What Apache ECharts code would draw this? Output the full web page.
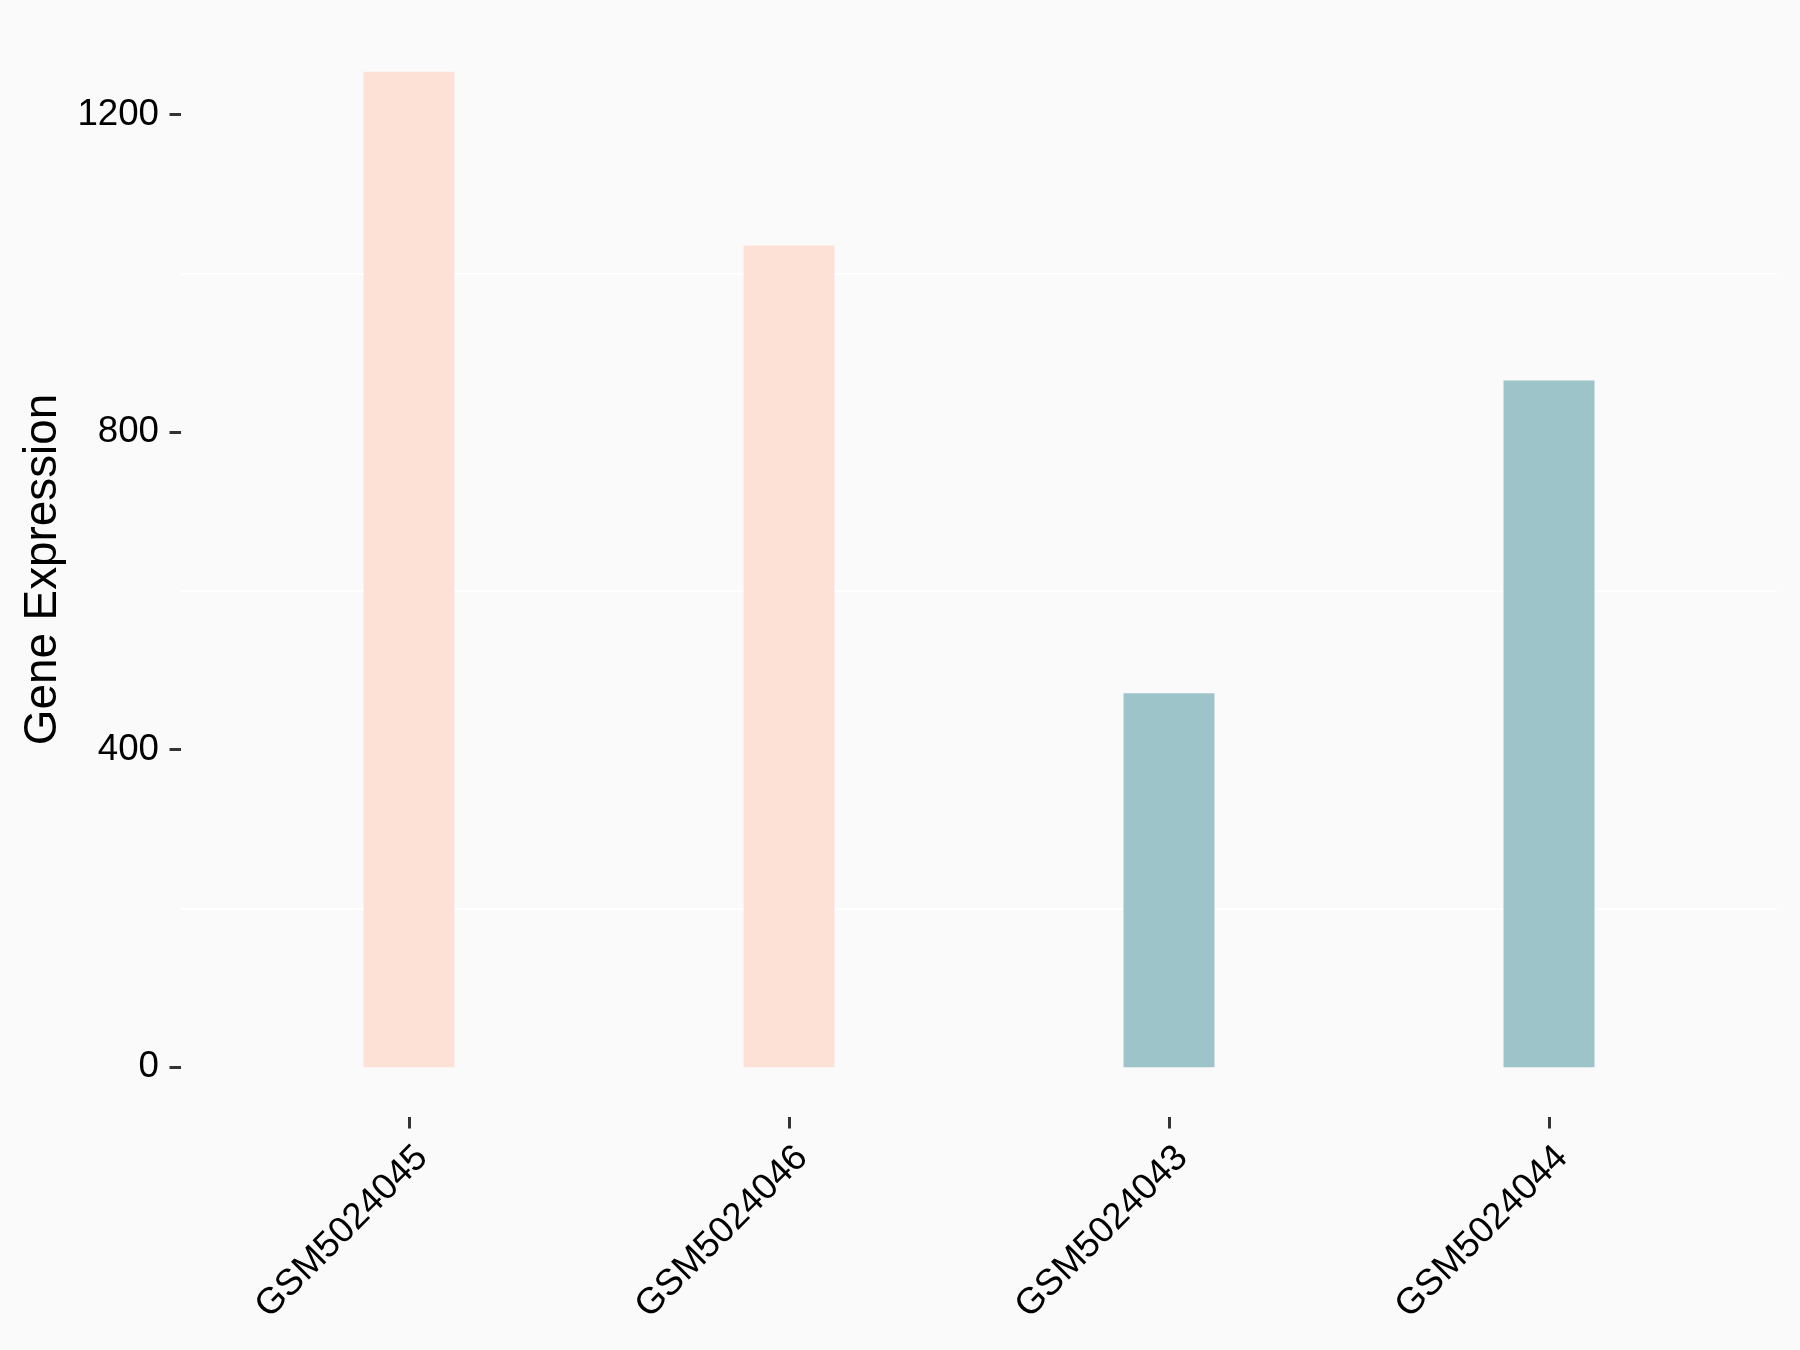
<!DOCTYPE html>
<html>
<head>
<meta charset="utf-8">
<script src="https://cdn.jsdelivr.net/npm/echarts@6/dist/echarts.min.js"></script>
<style>
  html, body { margin: 0; padding: 0; background: #FAFAFA; }
  #chart { width: 1800px; height: 1350px; }
</style>
</head>
<body>
<div id="chart"></div>
<script>
// samples in plotting order
const sampleNames = ['GSM5024045', 'GSM5024046', 'GSM5024043', 'GSM5024044']
const expression = [1254, 1035, 471, 865]
const groupColors = ['#FEE1D6', '#FEE1D6', '#9DC4C8', '#9DC4C8']
const yTicks = [0, 400, 800, 1200]
const minorGrid = [200, 600, 1000]

const positions = sampleNames.map((n, i) => i + 1)
const maxVal = Math.max(...expression)
const pad = maxVal * 0.05

const font = "'Liberation Sans', Arial, sans-serif"

let chart = echarts.init(document.getElementById('chart'))

let option = {
  backgroundColor: '#FAFAFA',
  animation: false,
  grid: {
    left: 181,
    right: 23,
    top: 22,
    bottom: 233,
    containLabel: false
  },
  xAxis: {
    type: 'value',
    min: 0.4,
    max: sampleNames.length + 0.6,
    axisLine: { show: false, onZero: false },
    splitLine: { show: false },
    axisTick: {
      show: true,
      length: 11.5,
      customValues: positions,
      lineStyle: { color: '#333333', width: 3 }
    },
    axisLabel: {
      customValues: positions,
      rotate: 45,
      margin: 22,
      align: 'right',
      verticalAlign: 'top',
      color: '#000000',
      fontSize: 36.7,
      fontFamily: font,
      formatter: v => sampleNames[Math.round(v) - 1] || ''
    }
  },
  yAxis: {
    type: 'value',
    min: -pad,
    max: maxVal + pad,
    name: 'Gene Expression',
    nameLocation: 'middle',
    nameGap: 114,
    nameTextStyle: { fontSize: 45.8, fontFamily: font, color: '#000000' },
    axisLine: { show: false, onZero: false },
    splitLine: { show: false },
    axisTick: {
      show: true,
      length: 11.5,
      customValues: yTicks,
      lineStyle: { color: '#333333', width: 3 }
    },
    axisLabel: {
      customValues: yTicks,
      margin: 22,
      color: '#000000',
      fontSize: 36.7,
      fontFamily: font,
      formatter: v => String(v)
    }
  },
  series: [
    {
      type: 'bar',
      barWidth: 91,
      data: expression.map((v, i) => ({
        value: [positions[i], v],
        itemStyle: { color: groupColors[i] }
      })),
      z: 3,
      markLine: {
        silent: true,
        symbol: 'none',
        label: { show: false },
        lineStyle: { color: '#FFFFFF', width: 2, type: 'solid' },
        data: minorGrid.map(v => ({ yAxis: v })),
        z: 1
      }
    }
  ]
}

chart.setOption(option)
</script>
</body>
</html>
